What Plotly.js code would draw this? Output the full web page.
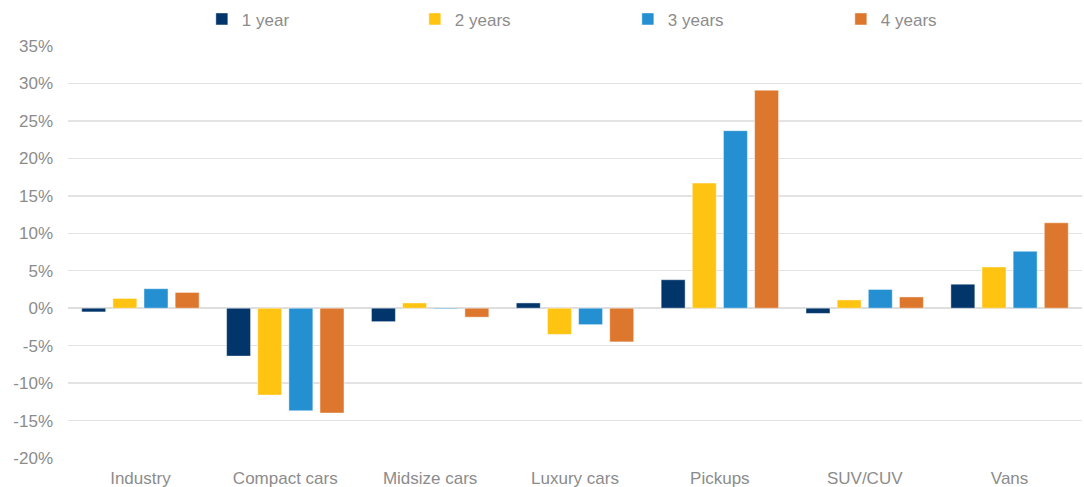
<!DOCTYPE html>
<html>
<head>
<meta charset="utf-8">
<script src="https://cdn.plot.ly/plotly-3.0.1.min.js"></script>
<style>html,body{margin:0;padding:0;background:#fff;}#chart{width:1084px;height:487px;}</style>
</head>
<body>
<div id="chart"></div>
<script>
const categories = ["Industry", "Compact cars", "Midsize cars", "Luxury cars", "Pickups", "SUV/CUV", "Vans"];
const seriesNames = ["1 year", "2 years", "3 years", "4 years"];
const oneYear   = [-0.5, -6.4, -1.8,  0.7,  3.8, -0.7, 3.2];
const twoYears  = [ 1.3, -11.6, 0.7, -3.5, 16.7,  1.1, 5.5];
const threeYears= [ 2.6, -13.7, -0.1, -2.2, 23.7,  2.5, 7.6];
const fourYears = [ 2.1, -14.0, -1.2, -4.5, 29.1,  1.5, 11.4];
const yTickVals = [-20, -15, -10, -5, 0, 5, 10, 15, 20, 25, 30, 35];
const yTickText = ["-20%", "-15%", "-10%", "-5%", "0%", "5%", "10%", "15%", "20%", "25%", "30%", "35%"];
const colors = ["#02356A", "#FFC312", "#2590D1", "#DD772D"];

const allSeries = [oneYear, twoYears, threeYears, fourYears];
const traces = allSeries.map((vals, i) => ({
  type: "bar",
  name: seriesNames[i],
  x: categories,
  y: vals,
  marker: { color: colors[i], line: { color: "rgba(255,255,255,0.45)", width: 1 } },
  hoverinfo: "x+y+name"
}));

const font = { family: "Liberation Sans, Arial, sans-serif", size: 17, color: "#8C8C8C" };

const layout = {
  width: 1084, height: 487,
  margin: { l: 68, r: 2, t: 45, b: 29 },
  paper_bgcolor: "#fff", plot_bgcolor: "#fff",
  font: font,
  barmode: "group",
  bargap: 0.14,
  bargroupgap: 0.23,
  showlegend: true,
  legend: {
    orientation: "h",
    x: 0.132, xanchor: "left",
    y: 1.062, yanchor: "middle",
    entrywidth: 168, entrywidthmode: "pixels",
    font: font,
    bgcolor: "rgba(0,0,0,0)",
    traceorder: "normal"
  },
  xaxis: {
    type: "category",
    showgrid: false, zeroline: false, showline: false,
    ticks: "", ticklabelstandoff: 8,
    tickfont: font
  },
  yaxis: {
    range: [-20, 35],
    tickvals: yTickVals, ticktext: yTickText,
    showgrid: true, gridcolor: "#E3E3E3", gridwidth: 1.5,
    zeroline: true, zerolinecolor: "#DEDEDE", zerolinewidth: 2,
    showline: false, ticks: "", ticklabelstandoff: 14,
    tickfont: font
  }
};

Plotly.newPlot("chart", traces, layout, { displayModeBar: false, staticPlot: true });
</script>
</body>
</html>
